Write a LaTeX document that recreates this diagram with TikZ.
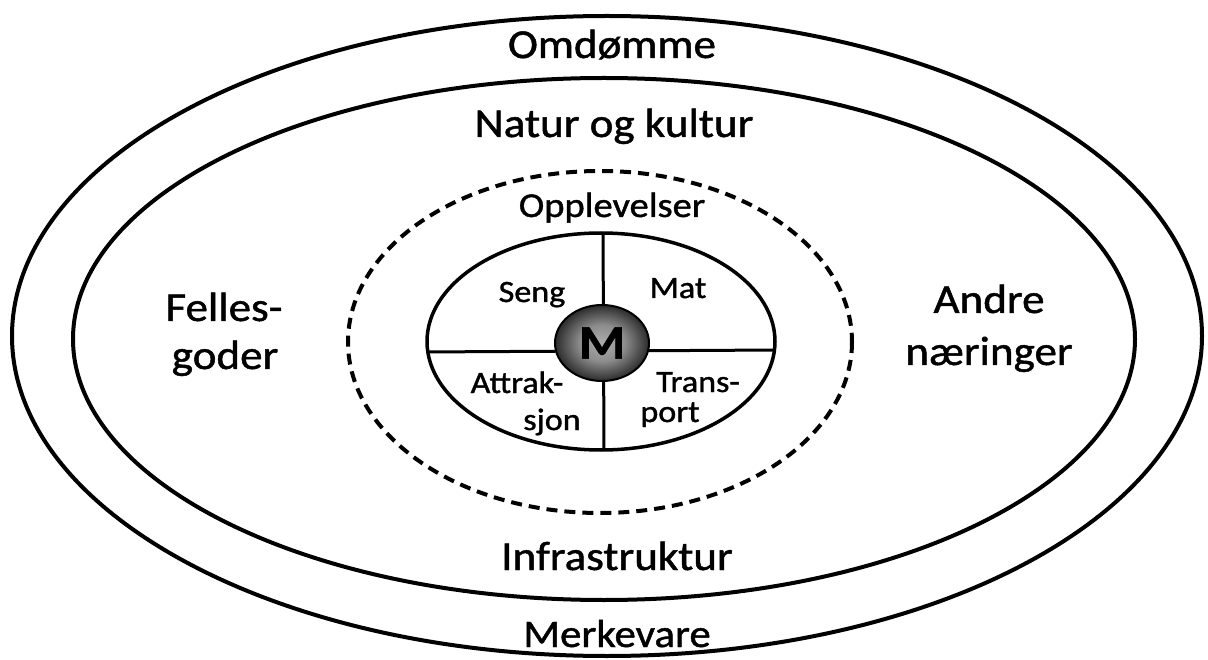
\documentclass[tikz,border=0pt]{standalone}
\usepackage{fontspec}
\setmainfont{Carlito}[FakeStretch=1.1, FakeBold=1.2]
\usetikzlibrary{shapes.geometric}
\pgfdeclareradialshading{mball}{\pgfpoint{0bp}{0bp}}{color(0bp)=(black!32); color(12bp)=(black!45); color(24bp)=(black!80); color(34bp)=(black); color(50bp)=(black)}
\begin{document}
\begin{tikzpicture}[x=1pt,y=-1pt,
  ring/.style={line width=4pt},
  big/.style={font=\fontsize{41}{50}\selectfont, anchor=base, inner sep=0pt},
  mid/.style={font=\fontsize{35}{42}\selectfont, anchor=base, inner sep=0pt},
  small/.style={font=\fontsize{31}{36}\selectfont, anchor=base, inner sep=0pt},
  divider/.style={line width=3pt}]
\useasboundingbox (0,0) rectangle (1208,660);
\fill[white] (0,0) rectangle (1208,660);
% rings
\coordinate (c0) at (607,336);
\draw[ring] (c0) ellipse [x radius=595, y radius=320];
\coordinate (c1) at (604,339);
\draw[ring] (c1) ellipse [x radius=531, y radius=261];
\coordinate (c2) at (600,342);
\draw[line width=4pt, dash pattern=on 11pt off 7pt] (c2) ellipse [x radius=252, y radius=171];
\coordinate (c3) at (601,341.5);
\coordinate (hl) at (420,352);
\coordinate (hr) at (780,350);
\coordinate (vt) at (603,225);
\coordinate (vb) at (604,455);
\begin{scope}
  \clip (c3) ellipse [x radius=174, y radius=108.5];
  \draw[divider] (hl) -- (hr);
  \draw[divider] (vt) -- (vb);
\end{scope}
\draw[line width=3.5pt] (c3) ellipse [x radius=174, y radius=108.5];
\node[ellipse, minimum width=94pt, minimum height=76pt, inner sep=0pt,
      shade, shading=mball, draw, line width=2pt,
      font=\bfseries\fontsize{48}{52}\selectfont] (m) at (602,343) {M};
% labels
\node[big] (omd) at (612,58) {Omdømme};
\node[big] (nat) at (614,137) {Natur og kultur};
\node[mid] (opp) at (612,217) {Opplevelser};
\node[big] (fel1) at (224,321) {Felles-};
\node[big] (fel2) at (225,369) {goder};
\node[big] (and1) at (989,313) {Andre};
\node[big] (and2) at (989,365) {næringer};
\node[big] (inf) at (617,570) {Infrastruktur};
\node[big, font=\fontsize{39}{48}\selectfont] (mer) at (617,647) {Merkevare};
\node[small] (seng) at (532,302) {Seng};
\node[small] (mat) at (678,298) {Mat};
\node[small] (att1) at (517,393) {Attrak-};
\node[small] (att2) at (552,430) {sjon};
\node[small] (tr1) at (698,392) {Trans-};
\node[small] (tr2) at (670,422) {port};
\end{tikzpicture}
\end{document}
